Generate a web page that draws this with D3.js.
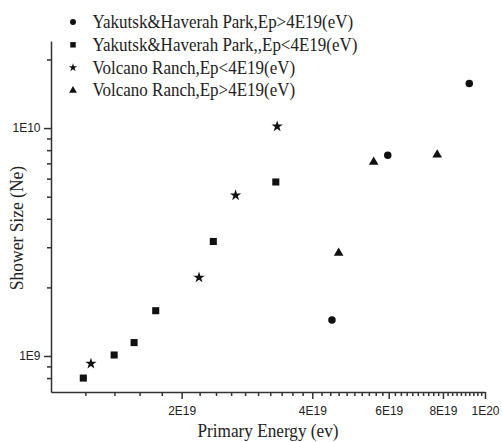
<!DOCTYPE html>
<html>
<head>
<meta charset="utf-8">
<script src="https://cdn.jsdelivr.net/npm/d3@7"></script>
<style>
  body { margin: 0; background: #fff; }
  svg { display: block; }
  .title { font-family: "Liberation Serif", "Times New Roman", serif; fill: #222; }
</style>
</head>
<body>
<div id="chart"></div>
<script>
// series labels
const seriesNames = [
    "Yakutsk&Haverah Park,Ep>4E19(eV)",
    "Yakutsk&Haverah Park,,Ep<4E19(eV)",
    "Volcano Ranch,Ep<4E19(eV)",
    "Volcano Ranch,Ep>4E19(eV)"
]

// values (energy in eV, shower size Ne)
const yhpHighEnergy = [4.44e19, 5.97e19, 9.20e19]
const yhpHighSize = [1.44e9, 7.6e9, 1.57e10]

const yhpLowEnergy = [1.187e19, 1.398e19, 1.554e19, 1.743e19, 2.366e19, 3.296e19]
const yhpLowSize = [0.80e9, 1.01e9, 1.145e9, 1.58e9, 3.18e9, 5.8e9]

const vrLowEnergy = [1.236e19, 2.193e19, 2.663e19, 3.32e19]
const vrLowSize = [0.926e9, 2.21e9, 5.07e9, 1.017e10]

const vrHighEnergy = [4.60e19, 5.54e19, 7.76e19]
const vrHighSize = [2.83e9, 7.10e9, 7.64e9]

// axis ticks
const xTickValues = [2e19, 4e19, 6e19, 8e19, 1e20]
const xTickLabels = ["2E19", "4E19", "6E19", "8E19", "1E20"]
const yTickValues = [1e9, 1e10]
const yTickLabels = ["1E9", "1E10"]

let width = 502, height = 442
let svg = d3.select("#chart").append("svg")
    .attr("width", width)
    .attr("height", height)

let x = d3.scaleLog().domain([1e19, 1e20]).range([51, 485])
let y = d3.scaleLog().domain([6.95e8, 2.41e10]).range([392, 41])

// minor ticks: every 2E18 on x, 2..9 per decade on y
let xMinor = d3.range(12, 100, 2).map(d => d * 1e18).filter(d => xTickValues.indexOf(d) < 0)
let yMinor = [8e8, 9e8, 2e9, 3e9, 4e9, 5e9, 6e9, 7e9, 8e9, 9e9, 2e10]

let axisColor = "#333"

let gx = svg.append("g").attr("transform", "translate(0,392)")
gx.call(d3.axisBottom(x).tickValues(xMinor).tickFormat("").tickSize(4))
gx.select(".domain").remove()
let gx2 = svg.append("g").attr("transform", "translate(0,392)")
gx2.call(d3.axisBottom(x).tickValues(xTickValues).tickFormat((d, i) => xTickLabels[i])
    .tickSize(7).tickSizeOuter(0).tickPadding(7))

let gy = svg.append("g").attr("transform", "translate(51,0)")
gy.call(d3.axisLeft(y).tickValues(yMinor).tickFormat("").tickSize(4))
gy.select(".domain").remove()
let gy2 = svg.append("g").attr("transform", "translate(51,0)")
gy2.call(d3.axisLeft(y).tickValues(yTickValues).tickFormat((d, i) => yTickLabels[i])
    .tickSize(7).tickSizeOuter(0).tickPadding(3.5))

svg.selectAll(".domain, .tick line")
    .attr("stroke", axisColor)
    .attr("stroke-width", 1.5)
svg.selectAll(".tick text")
    .attr("font-family", "'Liberation Sans', Arial, sans-serif")
    .attr("font-size", 12)
    .attr("fill", "#222")

// axis titles (the scan's serif text is a little tall, so stretch it)
svg.append("text")
    .attr("class", "title")
    .attr("transform", "translate(268,437) scale(1,1.12)")
    .attr("text-anchor", "middle")
    .style("font-size", "17.2px")
    .text("Primary Energy (ev)")

svg.append("text")
    .attr("class", "title")
    .attr("transform", "translate(23,228) rotate(-90) scale(1,1.12)")
    .attr("text-anchor", "middle")
    .style("font-size", "17.5px")
    .text("Shower Size (Ne)")

// markers
let series = [
    { energy: yhpHighEnergy, size: yhpHighSize, symbol: d3.symbolCircle, area: 44, legendArea: 28 },
    { energy: yhpLowEnergy, size: yhpLowSize, symbol: d3.symbolSquare, area: 50, legendArea: 30 },
    { energy: vrLowEnergy, size: vrLowSize, symbol: d3.symbolStar, area: 40, legendArea: 22 },
    { energy: vrHighEnergy, size: vrHighSize, symbol: d3.symbolTriangle, area: 40, legendArea: 26 }
]

series.forEach(s => {
    let pts = s.energy.map((e, i) => ({ x: e, y: s.size[i] }))
    svg.append("g").selectAll("path")
        .data(pts)
        .enter().append("path")
        .attr("d", d3.symbol().type(s.symbol).size(s.area))
        .attr("transform", d => `translate(${x(d.x)},${y(d.y)})`)
        .attr("fill", "#111")
})

// legend
let legend = svg.append("g").attr("transform", "translate(73,22)")
let rows = legend.selectAll("g")
    .data(series)
    .enter().append("g")
    .attr("transform", (d, i) => `translate(0,${i * 22.8})`)

rows.append("path")
    .attr("d", d => d3.symbol().type(d.symbol).size(d.legendArea)())
    .attr("fill", "#111")

rows.append("text")
    .attr("class", "title")
    .attr("transform", "translate(19.5,6) scale(1,1.12)")
    .style("font-size", "17px")
    .text((d, i) => seriesNames[i])
</script>
</body>
</html>
